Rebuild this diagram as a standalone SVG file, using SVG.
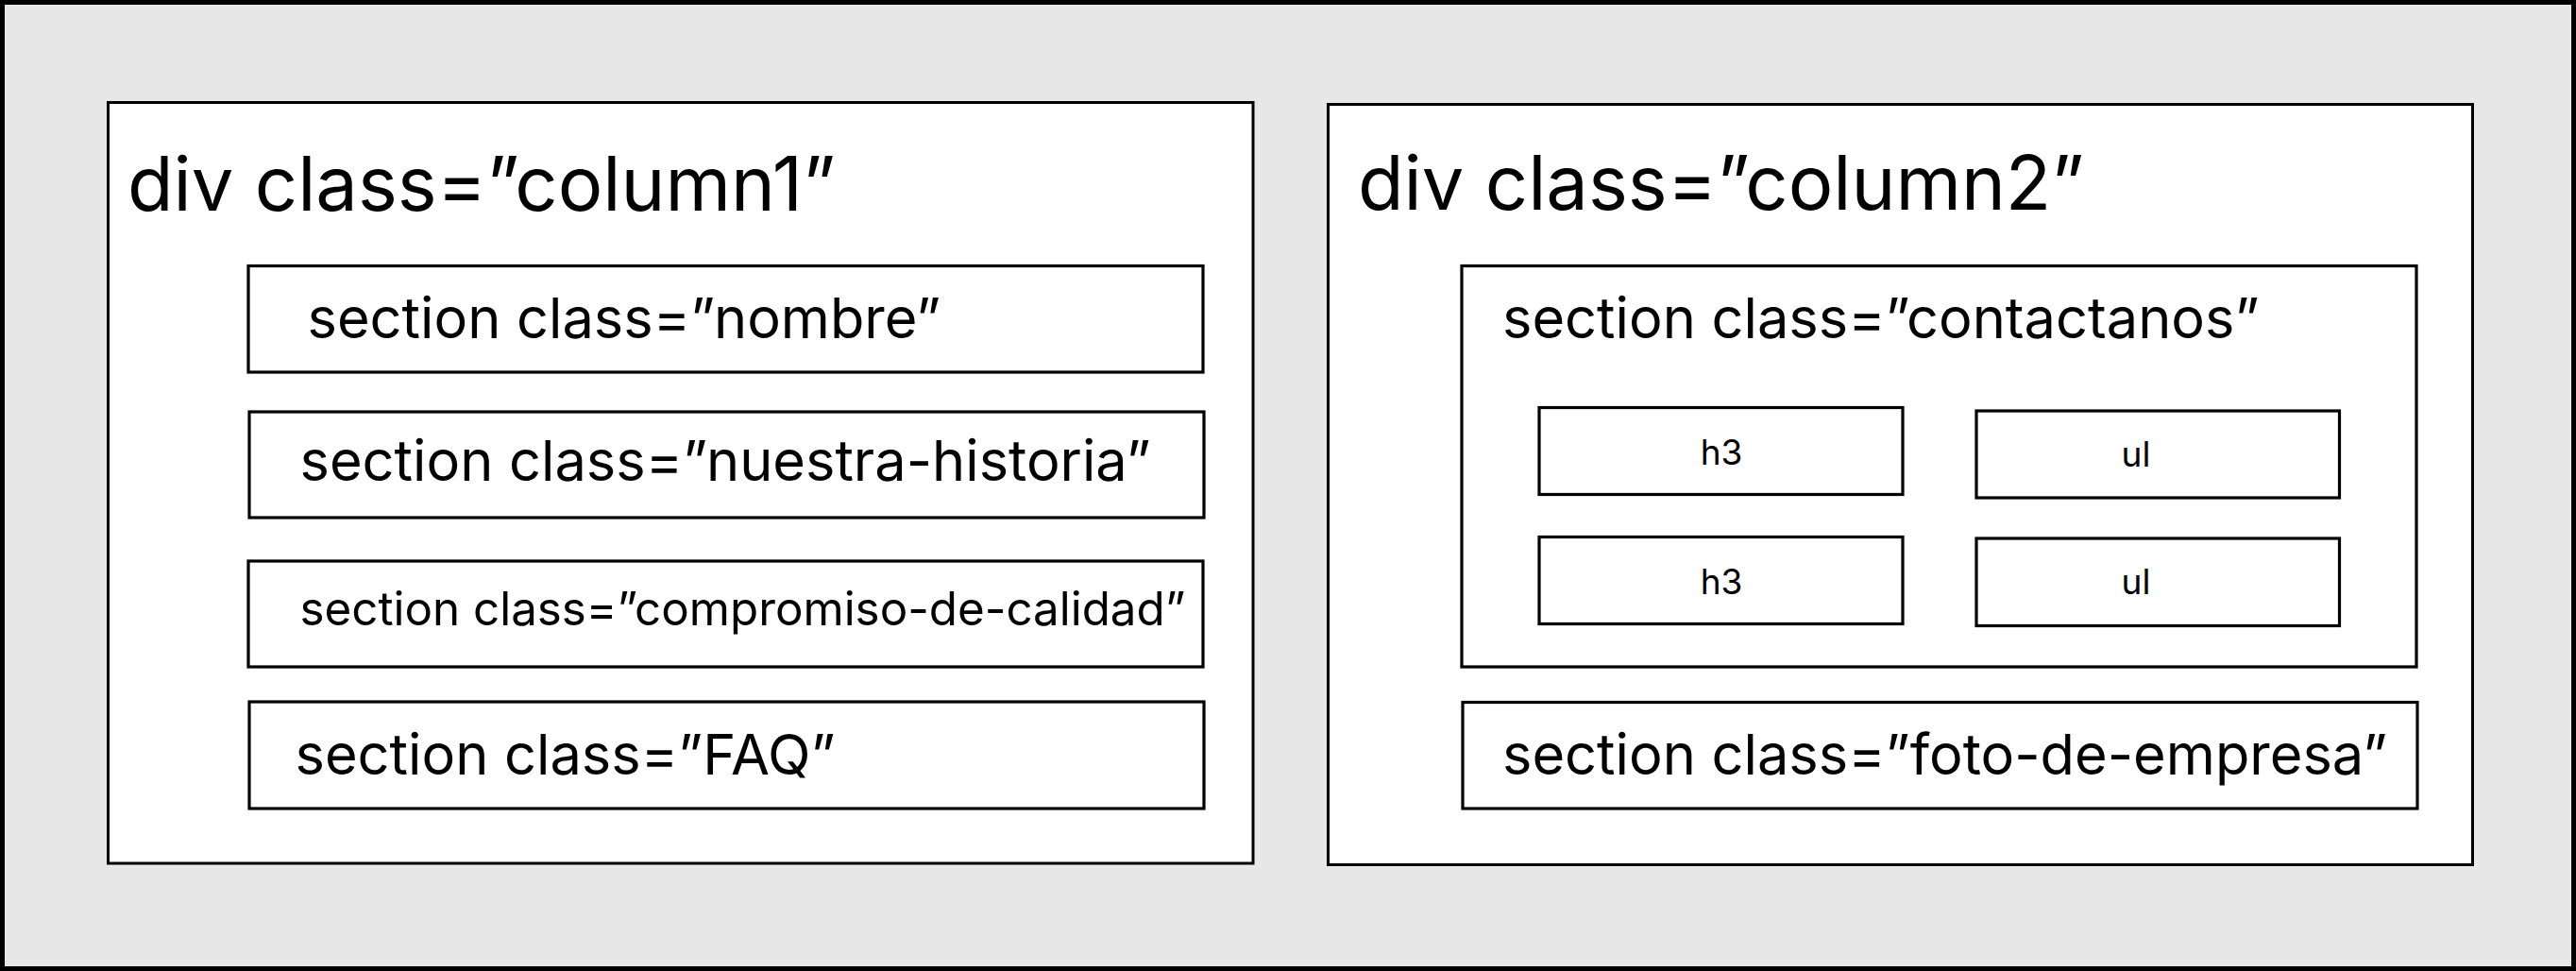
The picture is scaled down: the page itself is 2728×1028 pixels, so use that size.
<svg xmlns="http://www.w3.org/2000/svg" width="2728" height="1028" viewBox="0 0 2728 1028">
  <style>
    .frame { fill: #e7e7e7; stroke: #000; stroke-width: 5; }
    .col { fill: #fff; stroke: #000; stroke-width: 3; }
    .box { fill: #fff; stroke: #000; stroke-width: 3.2; }
    text { font-family: Inter, "Noto Sans", "Liberation Sans", sans-serif; fill: #000; }
    .title { font-size: 79.4px; }
    .sec { font-size: 59.5px; }
    .sec-sm { font-size: 49.3px; }
    .tag { font-size: 37px; text-anchor: middle; }
  </style>

  <!-- page background -->
  <rect class="frame" x="2.5" y="2.5" width="2723" height="1023"/>

  <!-- left column -->
  <g id="column1">
    <rect class="col" x="114.5" y="108.5" width="1212.5" height="805.5"/>
    <text class="title" x="135" y="223">div class=”column1”</text>
  </g>
  <g id="section-nombre">
    <rect class="box" x="263" y="281.5" width="1011" height="112.5"/>
    <text class="sec" x="325.5" y="358">section class=”nombre”</text>
  </g>
  <g id="section-nuestra-historia">
    <rect class="box" x="264" y="436" width="1011" height="112"/>
    <text class="sec" x="317.5" y="509">section class=”nuestra-historia”</text>
  </g>
  <g id="section-compromiso-de-calidad">
    <rect class="box" x="263" y="594" width="1011" height="112"/>
    <text class="sec-sm" x="317.5" y="662">section class=”compromiso-de-calidad”</text>
  </g>
  <g id="section-faq">
    <rect class="box" x="264" y="743" width="1011" height="113"/>
    <text class="sec" x="312.5" y="820">section class=”FAQ”</text>
  </g>

  <!-- right column -->
  <g id="column2">
    <rect class="col" x="1406.5" y="110.5" width="1212" height="805"/>
    <text class="title" x="1438" y="222">div class=”column2”</text>
  </g>
  <g id="section-contactanos">
    <rect class="box" x="1548" y="281.5" width="1011" height="424.5"/>
    <text class="sec" x="1591" y="358">section class=”contactanos”</text>
  </g>
  <g id="h3-1">
    <rect class="box" x="1630" y="431.5" width="385" height="92"/>
    <text class="tag" x="1823" y="492">h3</text>
  </g>
  <g id="ul-1">
    <rect class="box" x="2093" y="435" width="384.5" height="92"/>
    <text class="tag" x="2262" y="494">ul</text>
  </g>
  <g id="h3-2">
    <rect class="box" x="1630" y="568.5" width="385" height="92"/>
    <text class="tag" x="1823" y="629">h3</text>
  </g>
  <g id="ul-2">
    <rect class="box" x="2093" y="570" width="384.5" height="92.5"/>
    <text class="tag" x="2262" y="629">ul</text>
  </g>
  <g id="section-foto-de-empresa">
    <rect class="box" x="1549" y="743.5" width="1011" height="112.5"/>
    <text class="sec" x="1591" y="820">section class=”foto-de-empresa”</text>
  </g>

  <!-- no connectors in this layout -->
  <g id="connectors"/>
</svg>
